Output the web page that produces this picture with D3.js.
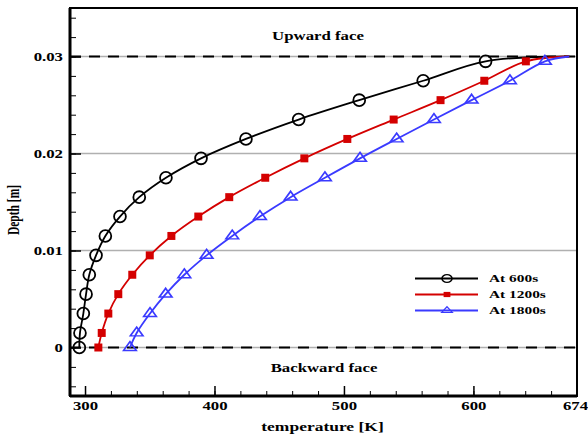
<!DOCTYPE html>
<html lang="en">
<head>
    <meta charset="UTF-8">
    <title>Temperature vs Depth</title>
    <script src="https://cdnjs.cloudflare.com/ajax/libs/d3/7.8.5/d3.min.js"></script>
    <style>
        body { margin: 0; background: #fff; }
        svg text { font-weight: bold; fill: #000; }
    </style>
</head>
<body>
<svg width="588" height="436"></svg>
<script>

    // depth of the marker points [m]
    const depth = [0, 0.0015, 0.0035, 0.0055, 0.0075, 0.0095, 0.0115, 0.0135,
                   0.0155, 0.0175, 0.0195, 0.0215, 0.0235, 0.0255, 0.0275, 0.0295];
    // temperatures [K]
    const temp600 = [295.6, 296.1, 298.7, 300.8, 303.3, 308.5, 315.7, 327.0,
                     341.9, 362.5, 389.6, 424.3, 465.0, 511.8, 561.2, 609.4];
    const temp1200 = [310.3, 312.9, 318.0, 325.7, 336.5, 350.0, 366.7, 387.5,
                      411.4, 439.2, 469.4, 502.6, 538.4, 574.6, 608.4, 640.5];
    const temp1800 = [334.7, 339.9, 350.2, 362.3, 376.7, 393.9, 413.7, 435.1,
                      458.8, 485.3, 512.4, 540.7, 569.5, 598.6, 628.2, 655.2];
    // all curves end on the upward face
    const surfaceDepth = 0.03;
    const surfaceT = 674;

    const seriesNames = ["At 600s", "At 1200s", "At 1800s"];
    const seriesColors = ["#000000", "#d40000", "#3a3aff"];
    const seriesMarkers = ["circle", "square", "triangle"];

    const xMajor = [300, 400, 500, 600];
    const xMinor = d3.range(300, 681, 20);
    const yMajor = [0, 0.01, 0.02, 0.03];
    const yMinor = d3.range(-0.004, 0.0345, 0.002);
    const faceLines = [0, 0.03];
    const gridLines = [0.01, 0.02];

    const FONT = "'Liberation Serif', 'Times New Roman', Times, serif";
    const WIDE = 1.4;   // the original lettering is stretched sideways

    const svg = d3.select("svg");
    const m = { left: 70, right: 577, top: 8, bottom: 396 };

    const x = d3.scaleLinear().domain([288.4, 680]).range([m.left, m.right]);
    const y = d3.scaleLinear().domain([-0.005, 0.035]).range([m.bottom, m.top]);

    // grid lines
    svg.append("g").selectAll("line")
        .data(gridLines.concat(faceLines))
        .enter().append("line")
        .attr("x1", m.left).attr("x2", m.right)
        .attr("y1", d => y(d)).attr("y2", d => y(d))
        .attr("stroke", "#b0b0b0").attr("stroke-width", 1.5);

    svg.append("g").selectAll("line")
        .data(faceLines)
        .enter().append("line")
        .attr("x1", m.left).attr("x2", m.right)
        .attr("y1", d => y(d)).attr("y2", d => y(d))
        .attr("stroke", "#000").attr("stroke-width", 2)
        .attr("stroke-dasharray", "11,8");

    // face labels
    svg.append("text").attr("x", 318).attr("y", y(0.03) - 17)
        .attr("text-anchor", "middle").style("font-size", "12px").text("Upward face");
    svg.append("text").attr("x", 324).attr("y", y(0) + 24)
        .attr("text-anchor", "middle").style("font-size", "12px").text("Backward face");

    // curves
    const series = [temp600, temp1200, temp1800];
    const line = d3.line()
        .x(d => x(d[0]))
        .y(d => y(d[1]))
        .curve(d3.curveCatmullRom);

    const symbolFor = {
        circle: d3.symbol().type(d3.symbolCircle).size(110),
        square: d3.symbol().type(d3.symbolSquare).size(64),
        triangle: d3.symbol().type(d3.symbolTriangle).size(70)
    };

    function drawMarker(g, kind, color) {
        const p = g.append("path").attr("d", symbolFor[kind]());
        if (kind === "square") {
            p.attr("fill", color).attr("stroke", "none");
        } else {
            p.attr("fill", "none").attr("stroke", color).attr("stroke-width", 1.8);
        }
        if (kind === "triangle") p.attr("transform", "scale(1,0.8)");
        return p;
    }

    series.forEach((temps, i) => {
        const pts = temps.map((t, j) => [t, depth[j]]);
        pts.push([surfaceT, surfaceDepth]);
        svg.append("path")
            .datum(pts)
            .attr("d", line)
            .attr("fill", "none")
            .attr("stroke", seriesColors[i])
            .attr("stroke-width", 1.8);

        const mg = svg.append("g");
        temps.forEach((t, j) => {
            const g = mg.append("g").attr("transform", `translate(${x(t)},${y(depth[j])})`);
            drawMarker(g, seriesMarkers[i], seriesColors[i]);
        });
    });

    // axes
    const axisG = svg.append("g");

    axisG.append("g")
        .attr("transform", `translate(${m.left},0)`)
        .call(d3.axisLeft(y).tickValues(yMajor).tickSize(-11).tickPadding(7)
            .tickFormat(d => d === 0 ? "0" : d3.format(".2f")(d)))
        .call(g => g.select(".domain").remove())
        .call(g => g.selectAll("text").style("font-size", "12px"))
        .call(g => g.selectAll("line").attr("stroke-width", 1.5));

    axisG.append("g")
        .attr("transform", `translate(${m.left},0)`)
        .call(d3.axisLeft(y).tickValues(yMinor).tickSize(-6).tickFormat(""))
        .call(g => g.select(".domain").remove())
        .call(g => g.selectAll("line").attr("stroke-width", 1));

    axisG.append("g")
        .attr("transform", `translate(0,${m.bottom})`)
        .call(d3.axisBottom(x).tickValues(xMajor).tickSize(-10).tickPadding(5.5))
        .call(g => g.select(".domain").remove())
        .call(g => g.selectAll("text").style("font-size", "12px"))
        .call(g => g.selectAll("line").attr("stroke-width", 1.5));

    axisG.append("g")
        .attr("transform", `translate(0,${m.bottom})`)
        .call(d3.axisBottom(x).tickValues(xMinor).tickSize(-5).tickFormat(""))
        .call(g => g.select(".domain").remove())
        .call(g => g.selectAll("line").attr("stroke-width", 1));

    // end label of the temperature axis
    axisG.append("g")
        .attr("transform", `translate(-2,${m.bottom})`)
        .call(d3.axisBottom(x).tickValues([x.domain()[1]]).tickSize(0).tickPadding(5.5)
            .tickFormat(() => surfaceT))
        .call(g => g.select(".domain").remove())
        .call(g => g.selectAll("text").style("font-size", "12px"));

    // frame
    svg.append("rect")
        .attr("x", m.left).attr("y", m.top)
        .attr("width", m.right - m.left).attr("height", m.bottom - m.top)
        .attr("fill", "none").attr("stroke", "#000").attr("stroke-width", 2);
    svg.append("line").attr("x1", m.left).attr("x2", m.left).attr("y1", m.top).attr("y2", m.bottom)
        .attr("stroke", "#000").attr("stroke-width", 3);
    svg.append("line").attr("x1", m.left).attr("x2", m.right).attr("y1", m.bottom).attr("y2", m.bottom)
        .attr("stroke", "#000").attr("stroke-width", 3);

    // axis titles
    svg.append("text")
        .attr("x", 322.5).attr("y", 431)
        .attr("text-anchor", "middle").style("font-size", "12.5px")
        .text("temperature [K]");

    // legend
    const legend = svg.append("g").attr("transform", "translate(415,278.5)");
    seriesNames.forEach((name, i) => {
        const row = legend.append("g").attr("transform", `translate(0,${i * 16})`);
        row.append("line").attr("x1", 0).attr("x2", 63)
            .attr("stroke", seriesColors[i]).attr("stroke-width", 1.8);
        const mk = row.append("g").attr("transform", "translate(32,0) scale(0.85,0.65)");
        drawMarker(mk, seriesMarkers[i], seriesColors[i]);
        row.append("text").attr("x", 74).attr("y", 3.5)
            .style("font-size", "11px").text(name);
    });

    // widen every label around its anchor point
    svg.selectAll("text").each(function () {
        const t = d3.select(this);
        const tx = +t.attr("x") || 0, ty = +t.attr("y") || 0;
        t.attr("x", 0).attr("y", 0)
            .attr("transform", `translate(${tx},${ty}) scale(${WIDE},1)`);
    });

    svg.append("text")
        .attr("transform", `translate(18.5,210) scale(${WIDE},1) rotate(-90)`)
        .attr("text-anchor", "middle").style("font-size", "11.5px")
        .text("Depth [m]");

    // every label in a bold serif face
    svg.selectAll("text").attr("font-family", null).style("font-family", FONT);

</script>
</body>
</html>
